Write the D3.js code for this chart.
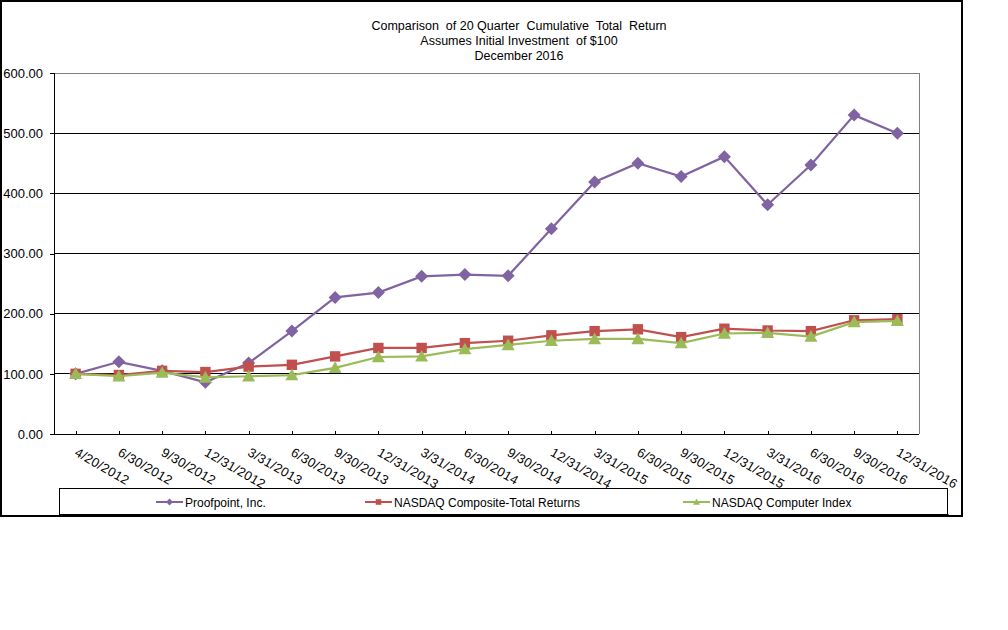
<!DOCTYPE html>
<html>
<head>
<meta charset="utf-8">
<script src="https://cdn.jsdelivr.net/npm/d3@7"></script>
<style>
html, body { margin: 0; padding: 0; background: #fff; }
svg { display: block; font-family: "Liberation Sans", Arial, sans-serif; }
</style>
</head>
<body>
<svg id="chart" width="1008" height="630"></svg>
<script>
const categories = ["4/20/2012","6/30/2012","9/30/2012","12/31/2012","3/31/2013","6/30/2013","9/30/2013","12/31/2013","3/31/2014","6/30/2014","9/30/2014","12/31/2014","3/31/2015","6/30/2015","9/30/2015","12/31/2015","3/31/2016","6/30/2016","9/30/2016","12/31/2016"];
const proofpoint = [100, 120, 105, 86, 118, 171, 227, 235, 262, 265, 263, 341, 419, 450, 428, 461, 381, 447, 530, 500];
const nasdaqComposite = [100, 98, 105, 103, 112, 115, 129, 143, 143, 151, 155, 164, 171, 174, 161, 175, 172, 171, 189, 191];
const nasdaqComputer = [100, 96, 102, 94, 96, 98, 110, 128, 129, 141, 148, 155, 158, 158, 151, 167, 168, 162, 186, 188];
const yTicks = [0, 100, 200, 300, 400, 500, 600];
const titleLines = ["Comparison  of 20 Quarter  Cumulative  Total  Return", "Assumes Initial Investment  of $100", "December 2016"];
const seriesNames = ["Proofpoint, Inc.", "NASDAQ Composite-Total Returns", "NASDAQ Computer Index"];

const series = [
  { name: seriesNames[0], values: proofpoint, color: "#8064A2", marker: "diamond" },
  { name: seriesNames[1], values: nasdaqComposite, color: "#C0504D", marker: "square" },
  { name: seriesNames[2], values: nasdaqComputer, color: "#9BBB59", marker: "triangle" }
];

const svg = d3.select("#chart");
const L = 54, R = 919, T = 73, B = 434;

// outer frame
svg.append("rect").attr("x", 1).attr("y", 1).attr("width", 961).attr("height", 515)
  .attr("fill", "none").attr("stroke", "#000").attr("stroke-width", 2);

// title
svg.append("g").selectAll("text").data(titleLines).join("text")
  .attr("x", 519).attr("y", (d, i) => 30 + i * 15)
  .attr("text-anchor", "middle").attr("font-size", 12.5)
  .style("white-space", "pre")
  .text(d => d);

const x = d3.scalePoint().domain(categories).range([L, R]).padding(0.5);
const y = d3.scaleLinear().domain([0, 600]).range([B, T]);

// gridlines
svg.append("g").selectAll("line").data(yTicks.filter(v => v > 0 && v < 600)).join("line")
  .attr("x1", L).attr("x2", R).attr("y1", d => y(d)).attr("y2", d => y(d))
  .attr("stroke", "#000").attr("stroke-width", 1).attr("shape-rendering", "crispEdges");
// top and right border (gray)
svg.append("path").attr("d", `M${L},${y(600)}H${R}V${B}`)
  .attr("fill", "none").attr("stroke", "#808080").attr("stroke-width", 1).attr("shape-rendering", "crispEdges");

// y axis
const yAxis = d3.axisLeft(y).tickValues(yTicks).tickSize(4).tickPadding(7).tickFormat(d3.format(".2f"));
const gy = svg.append("g").attr("transform", `translate(${L},0)`).call(yAxis);
gy.select(".domain").attr("stroke", "#000").attr("shape-rendering", "crispEdges");
gy.selectAll(".tick line").attr("stroke", "#000").attr("shape-rendering", "crispEdges");
gy.selectAll(".tick text").attr("font-size", 13).attr("font-family", "Liberation Sans, Arial, sans-serif").attr("fill", "#000");

// x axis
const xAxis = d3.axisBottom(x).tickSize(-3).tickSizeOuter(0).tickFormat("");
const gx = svg.append("g").attr("transform", `translate(0,${B})`).call(xAxis);
gx.select(".domain").attr("stroke", "#000").attr("d", `M${L - 4},0H${R}`).attr("shape-rendering", "crispEdges");
gx.selectAll(".tick line").attr("stroke", "#000").attr("shape-rendering", "crispEdges");

svg.append("g").selectAll("text").data(categories).join("text")
  .attr("transform", d => `translate(${x(d) - 2},${B + 21}) rotate(30)`)
  .attr("font-size", 13).attr("letter-spacing", 0.3).attr("text-anchor", "start").text(d => d);

function markerPath(type, s) {
  if (type === "diamond") return `M0,${-s}L${s},0L0,${s}L${-s},0Z`;
  if (type === "square") return `M${-s * 0.8},${-s * 0.8}H${s * 0.8}V${s * 0.8}H${-s * 0.8}Z`;
  return `M0,${-s * 1.0}L${s * 1.0},${s * 0.8}H${-s * 1.0}Z`;
}

const line = d3.line().x((d, i) => x(categories[i])).y(d => y(d));

series.forEach(s => {
  const g = svg.append("g");
  g.append("path").datum(s.values).attr("d", line)
    .attr("fill", "none").attr("stroke", s.color).attr("stroke-width", 2.2);
  g.selectAll("path.m").data(s.values).join("path").attr("class", "m")
    .attr("transform", (d, i) => `translate(${x(categories[i])},${y(d)})`)
    .attr("d", markerPath(s.marker, 6.5)).attr("fill", s.color);
});

// legend
const lg = svg.append("g");
lg.append("rect").attr("x", 59.5).attr("y", 488.5).attr("width", 888).attr("height", 26)
  .attr("fill", "#fff").attr("stroke", "#000").attr("stroke-width", 1);
lg.append("line").attr("x1", 59).attr("x2", 948.5).attr("y1", 515).attr("y2", 515).attr("stroke", "#000").attr("stroke-width", 2);
const legendX = [156, 365, 683];
series.forEach((s, i) => {
  const g = lg.append("g").attr("transform", `translate(${legendX[i]},502)`);
  g.append("line").attr("x1", 0).attr("x2", 27).attr("y1", 0).attr("y2", 0).attr("stroke", s.color).attr("stroke-width", 2);
  g.append("path").attr("transform", "translate(13.5,0)").attr("d", markerPath(s.marker, 3.5)).attr("fill", s.color);
  g.append("text").attr("x", 29).attr("y", 4.5).attr("font-size", 12).text(s.name);
});
</script>
</body>
</html>
